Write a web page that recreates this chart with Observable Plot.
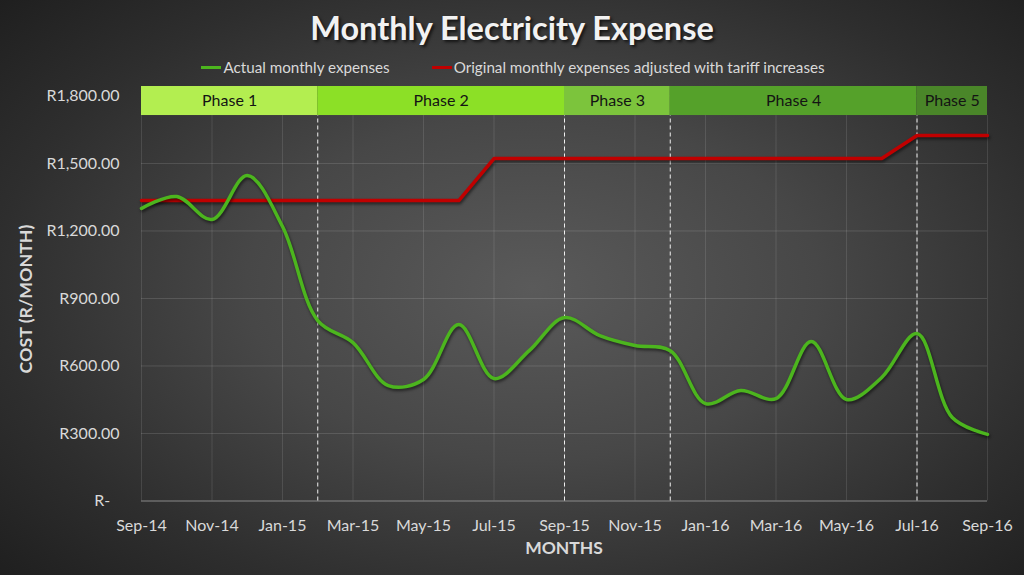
<!DOCTYPE html>
<html>
<head>
<meta charset="utf-8">
<script src="https://cdn.jsdelivr.net/npm/d3@7"></script>
<script src="https://cdn.jsdelivr.net/npm/@observablehq/plot@0.6"></script>
<style>
  html, body { margin: 0; padding: 0; }
  body { width: 1024px; height: 575px; overflow: hidden; }
  #wrap {
    position: relative; width: 1024px; height: 575px;
    background: radial-gradient(ellipse 70% 75% at 52% 50%, #5a5a5a 0%, #474747 40%, #2e2e2e 75%, #1f1f1f 100%);
    font-family: Lato, "Open Sans", sans-serif;
  }
  #title {
    position: absolute; left: 0; width: 1024px; top: 8px; text-align: center;
    font-size: 32.5px; font-weight: 700; color: #f2f2f2;
    text-shadow: 2px 2px 3px rgba(0,0,0,0.65);
  }
  #legend {
    position: absolute; left: 0; width: 1024px; top: 58px;
    display: flex; justify-content: center; gap: 42px;
    font-size: 15.2px; color: #d9d9d9; padding-left: 2px; box-sizing: border-box;
  }
  #legend .item { display: flex; align-items: center; }
  #legend .sw { width: 20px; height: 3px; margin-right: 2px; }
  #ylabel {
    position: absolute; left: 25px; top: 299px;
    transform: translate(-50%, -50%) rotate(-90deg);
    font-size: 17.8px; font-weight: 700; color: #d9d9d9; white-space: nowrap;
  }
  #xlabel {
    position: absolute; left: 0; width: 1024px; padding-left: 104px; box-sizing: border-box;
    top: 537px; text-align: center;
    font-size: 17.5px; font-weight: 700; color: #d9d9d9;
  }
  #chart { position: absolute; left: 0; top: 0; }
</style>
</head>
<body>
<div id="wrap">
  <div id="chart"></div>
  <div id="title">Monthly Electricity Expense</div>
  <div id="legend">
    <div class="item"><span class="sw" style="background:#4cb51e"></span>Actual monthly expenses</div>
    <div class="item"><span class="sw" style="background:#c00000"></span>Original monthly expenses adjusted with tariff increases</div>
  </div>
  <div id="ylabel">COST (R/MONTH)</div>
  <div id="xlabel">MONTHS</div>
</div>
<script>
// Months (category axis, equally spaced)
const months = ["Sep-14","Oct-14","Nov-14","Dec-14","Jan-15","Feb-15","Mar-15","Apr-15","May-15","Jun-15","Jul-15","Aug-15",
                "Sep-15","Oct-15","Nov-15","Dec-15","Jan-16","Feb-16","Mar-16","Apr-16","May-16","Jun-16","Jul-16","Aug-16","Sep-16"];
// Actual monthly expenses (R)
const actual = [1300, 1353, 1251, 1447, 1220, 802, 704, 513, 540, 784, 544, 668,
                815, 735, 691, 668, 433, 491, 455, 709, 451, 549, 744, 371, 296];
// Original monthly expenses adjusted with tariff increases (R)
const original = [1335, 1335, 1335, 1335, 1335, 1335, 1335, 1335, 1335, 1335, 1522, 1522,
                  1522, 1522, 1522, 1522, 1522, 1522, 1522, 1522, 1522, 1522, 1624, 1624, 1624];
// Phases (start/end as month index)
const phaseNames = ["Phase 1","Phase 2","Phase 3","Phase 4","Phase 5"];
const phaseStart = [0, 5, 12, 15, 22];
const phaseEnd   = [5, 12, 15, 22, 24];
const phaseColors = ["#b3ee50","#8ce026","#7cc43c","#55a12a","#4a8629"];
const yTicks = [0, 300, 600, 900, 1200, 1500, 1800];
const xTicks = [0, 2, 4, 6, 8, 10, 12, 14, 16, 18, 20, 22, 24];
const bandLow = 1713, bandHigh = 1842;

const actualData = actual.map((v, i) => ({i, v}));
const originalData = original.map((v, i) => ({i, v}));
const phases = phaseNames.map((n, k) => ({name: n, x1: phaseStart[k], x2: phaseEnd[k], color: phaseColors[k]}));
const boundaries = phaseStart.slice(1);

const fmt = d3.format(",.2f");

const plot = Plot.plot({
  width: 1024,
  height: 575,
  marginLeft: 141,
  marginRight: 37,
  marginTop: 86,
  marginBottom: 74.5,
  style: {background: "transparent", color: "#d9d9d9", fontSize: "16px", fontFamily: "Lato, 'Open Sans', sans-serif"},
  x: {domain: [0, 24]},
  y: {domain: [0, bandHigh]},
  marks: [
    Plot.gridY(yTicks.slice(1), {stroke: "#ffffff", strokeOpacity: 0.13, strokeWidth: 1, y2: bandLow}),
    Plot.ruleX(xTicks, {x: d => d, y1: 0, y2: bandLow, stroke: "#ffffff", strokeOpacity: 0.11, strokeWidth: 1}),
    Plot.ruleY([0], {stroke: "#8a8a8a", strokeWidth: 1.2}),
    Plot.ruleX(boundaries, {x: d => d, y1: 0, y2: bandLow, stroke: "#f0f0f0", strokeDasharray: "4,3", strokeWidth: 1}),
    Plot.rectY(phases, {x1: "x1", x2: "x2", y1: bandLow, y2: bandHigh, fill: "color", inset: 0}),
    Plot.text(phases, {x: d => (d.x1 + d.x2) / 2, y: (bandLow + bandHigh) / 2, text: "name", fill: "#141414", fontSize: 16}),
    Plot.line(originalData, {x: "i", y: "v", stroke: "#c00000", strokeWidth: 3.5}),
    Plot.line(actualData, {x: "i", y: "v", stroke: "#4cb51e", strokeWidth: 3.5, curve: "catmull-rom"}),
    Plot.axisY(yTicks, {tickSize: 0, tickPadding: 22, tickFormat: d => d === 0 ? "R-\u2007" : "R" + fmt(d), label: null, fill: "#d9d9d9", fontSize: 16}),
    Plot.axisX(xTicks, {tickSize: 0, tickPadding: 19, tickFormat: d => months[d], label: null, fill: "#d9d9d9", fontSize: 16})
  ]
});
document.getElementById("chart").appendChild(plot);
d3.select(plot).selectAll("g[aria-label='line'] path")
  .style("filter", "drop-shadow(1px 2px 1.5px rgba(0,0,0,0.55))");
</script>
</body>
</html>
